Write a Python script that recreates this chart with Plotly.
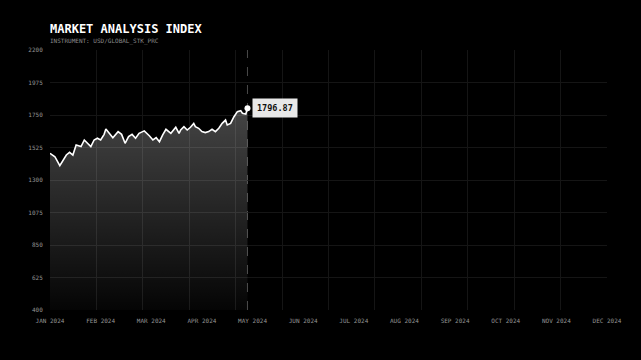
import calendar
import plotly.graph_objects as go

# ---- data ----
dates = [
    "2024-01-01", "2024-01-04", "2024-01-07", "2024-01-09", "2024-01-11", "2024-01-13", "2024-01-15",
    "2024-01-17", "2024-01-20", "2024-01-22", "2024-01-24", "2024-01-26", "2024-01-28", "2024-01-30",
    "2024-02-01", "2024-02-03", "2024-02-04", "2024-02-06", "2024-02-08", "2024-02-11", "2024-02-13",
    "2024-02-15", "2024-02-17", "2024-02-19", "2024-02-21", "2024-02-23", "2024-02-26", "2024-02-29",
    "2024-03-02", "2024-03-04", "2024-03-06", "2024-03-08", "2024-03-10", "2024-03-13", "2024-03-14",
    "2024-03-16", "2024-03-18", "2024-03-19", "2024-03-21", "2024-03-23", "2024-03-25", "2024-03-27",
    "2024-03-28", "2024-03-30",
    "2024-04-01", "2024-04-03", "2024-04-05", "2024-04-07", "2024-04-09", "2024-04-11", "2024-04-13",
    "2024-04-15", "2024-04-16", "2024-04-18", "2024-04-20", "2024-04-22", "2024-04-24", "2024-04-25",
    "2024-04-27", "2024-04-28",
]
values = [
    1485, 1461, 1399, 1438, 1473, 1492, 1473,
    1542, 1531, 1577, 1554, 1531, 1577, 1589,
    1577, 1616, 1653, 1623, 1593, 1635, 1616,
    1554, 1600, 1616, 1589, 1623, 1640, 1605,
    1577, 1593, 1565, 1612, 1651, 1623, 1635,
    1665, 1623, 1646, 1669, 1646, 1665, 1692,
    1669, 1658,
    1635, 1628, 1635, 1651, 1635, 1658, 1692,
    1715, 1681, 1692, 1738, 1773, 1780, 1762,
    1757, 1796.87,
]
month_labels = ["JAN 2024", "FEB 2024", "MAR 2024", "APR 2024", "MAY 2024", "JUN 2024",
                "JUL 2024", "AUG 2024", "SEP 2024", "OCT 2024", "NOV 2024", "DEC 2024"]
y_ticks = [400, 625, 850, 1075, 1300, 1525, 1750, 1975, 2200]
title = "MARKET ANALYSIS INDEX"
subtitle = "INSTRUMENT: USD/GLOBAL_STK_PRC"


def month_pos(d):
    y, m, day = (int(p) for p in d.split("-"))
    return (m - 1) + (day - 1) / calendar.monthrange(y, m)[1]


xs = [month_pos(d) for d in dates]
FONT = "DejaVu Sans Mono"
GRID = "#151515"

fig = go.Figure()
fig.add_trace(go.Scatter(
    x=xs, y=values, mode="lines",
    line=dict(color="#ffffff", width=1.6),
    fill="tozeroy",
    fillgradient=dict(type="vertical", start=400, stop=1800,
                      colorscale=[[0, "rgba(255,255,255,0.02)"], [1, "rgba(255,255,255,0.27)"]]),
    hoverinfo="skip", showlegend=False,
))
fig.add_trace(go.Scatter(
    x=[xs[-1]], y=[values[-1]], mode="markers",
    marker=dict(color="#ffffff", size=6),
    hoverinfo="skip", showlegend=False,
))
# invisible trace for the grid axis
fig.add_trace(go.Scatter(x=[], y=[], xaxis="x2", showlegend=False))

fig.add_shape(type="line", xref="x", yref="paper", x0=xs[-1], x1=xs[-1], y0=0, y1=1,
              line=dict(color="#4a4a4a", width=1, dash="dash"), layer="below")

fig.add_annotation(x=xs[-1], y=values[-1], xref="x", yref="y", text=f"<b>{values[-1]:.2f}</b>",
                   showarrow=False, xanchor="left", yanchor="middle", xshift=5,
                   font=dict(family=FONT, size=8.5, color="#111111"),
                   bgcolor="#e8e8e8", borderpad=4)

fig.add_annotation(x=0, y=1.081, xref="paper", yref="paper", text=f"<b>{title}</b>",
                   showarrow=False, xanchor="left", yanchor="middle", xshift=-2,
                   font=dict(family=FONT, size=12, color="#ffffff"))
fig.add_annotation(x=0, y=1.035, xref="paper", yref="paper", text=subtitle,
                   showarrow=False, xanchor="left", yanchor="middle", xshift=-2,
                   font=dict(family=FONT, size=6, color="#8a8a8a"))

fig.update_layout(
    width=641, height=360,
    margin=dict(l=50, r=34, t=50, b=50),
    paper_bgcolor="#000000", plot_bgcolor="#000000",
    xaxis=dict(range=[0, 11], tickmode="array", tickvals=list(range(len(month_labels))),
               ticktext=month_labels, showgrid=False, zeroline=False, showline=False,
               ticks="outside", ticklen=5, tickcolor="rgba(0,0,0,0)",
               tickfont=dict(family=FONT, size=6, color="#949494")),
    xaxis2=dict(range=[0, 12], dtick=1, tick0=0, overlaying="x", anchor="y",
                showticklabels=False, showgrid=True, gridcolor=GRID, gridwidth=1,
                zeroline=False, showline=False),
    yaxis=dict(range=[400, 2200], tickmode="array", tickvals=y_ticks,
               showgrid=True, gridcolor=GRID, gridwidth=1, zeroline=False, showline=False,
               ticks="outside", ticklen=5, tickcolor="rgba(0,0,0,0)",
               tickfont=dict(family=FONT, size=6, color="#949494")),
)

fig.write_html("out.html")
